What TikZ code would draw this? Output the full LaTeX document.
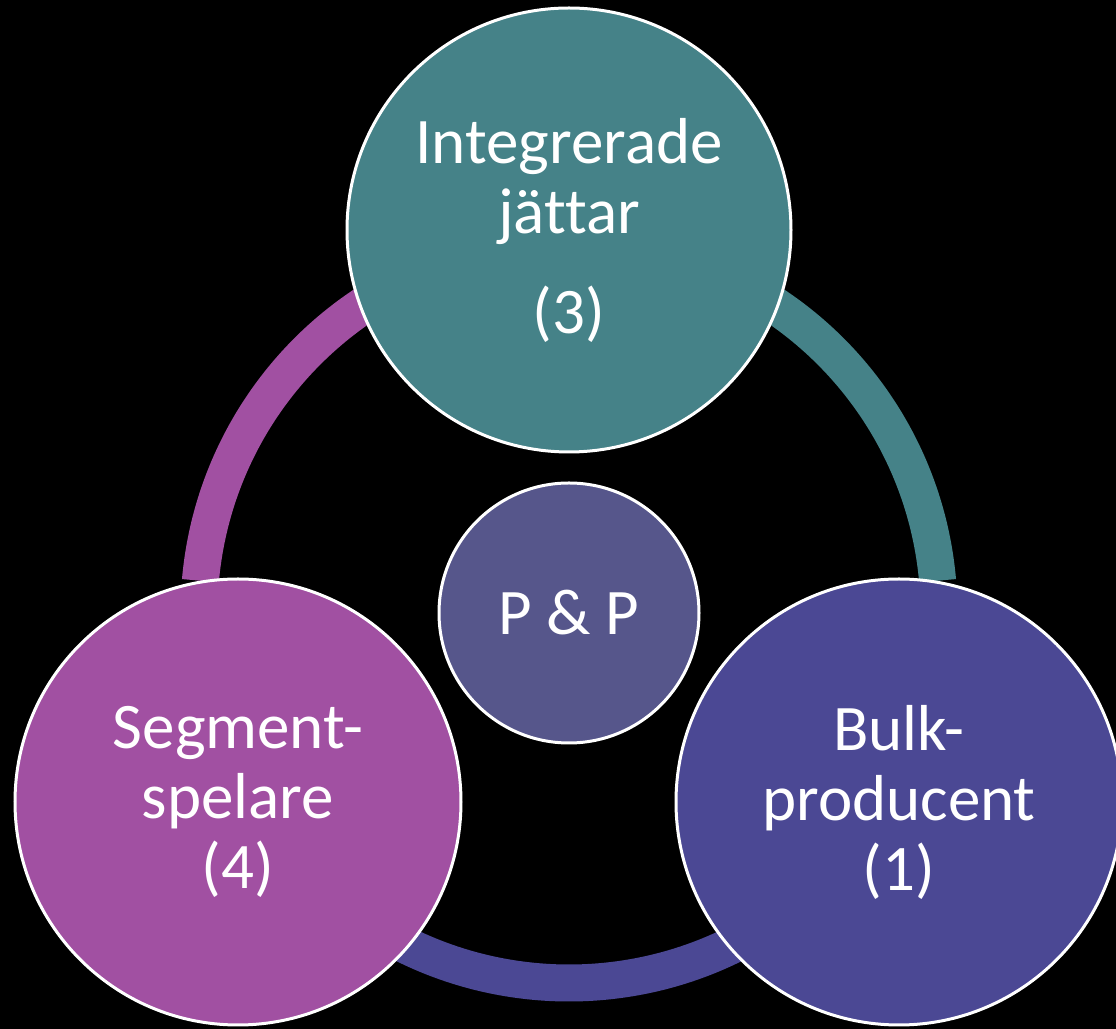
\documentclass[tikz,border=0pt]{standalone}
\usepackage{fontspec}
\setmainfont{Carlito}[Ligatures=NoCommon]
\usetikzlibrary{calc}

\definecolor{tealc}{RGB}{69,130,136}
\definecolor{bulkc}{RGB}{75,72,148}
\definecolor{magc}{RGB}{161,80,162}
\definecolor{hubc}{RGB}{86,86,139}

\begin{document}
\begin{tikzpicture}[x=0.5pt, y=0.5pt,
	every blob/.style={circle, draw=white, line width=1.5pt, inner sep=0pt,
		text=white, align=center, font=\fontsize{32.5}{35}\selectfont},
	ring/.style={line width=18.5pt}]
	
	\useasboundingbox [fill=black] (0,0) rectangle (1116,1029);
	\coordinate (hub) at (569,416);
	
	% ring pieces, ends hidden under the circles
	\foreach \c/\a/\b in {magc/175/110, tealc/70/5, bulkc/-45/-135}
	\draw [ring, \c] ($(hub)+(\a:370)$) arc [start angle=\a, end angle=\b, radius=370];
	
	\node [every blob, fill=tealc, minimum size=222pt] (giants) at (569,799)
	{Integrerade\\jättar\\[15pt](3)};
	\node [every blob, fill=bulkc, minimum size=223pt] (bulk) at (899,227)
	{Bulk-\\producent\\(1)};
	\node [every blob, fill=magc, minimum size=223pt] (segment) at (238,227)
	{Segment-\\spelare\\(4)};
	\node [every blob, fill=hubc, minimum size=130pt] (pp) at (hub) {P \& P};
	
\end{tikzpicture}
\end{document}
